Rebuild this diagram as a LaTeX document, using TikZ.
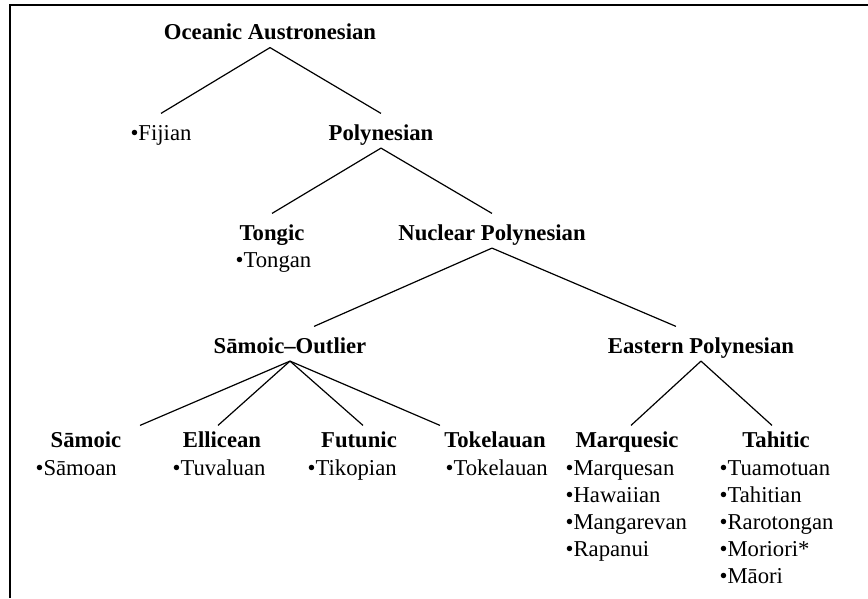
\documentclass[tikz,border=0pt]{standalone}
\usepackage{fontspec}
\setmainfont{Liberation Serif}
\usepackage{xcolor}

\newcommand{\treefont}{\fontsize{22.7}{27}\selectfont}
\tikzset{
  lang/.style={inner sep=0pt, text height=26pt, text depth=7.5pt, anchor=base},
  grp/.style={lang, font=\treefont\bfseries},
  sub/.style={grp, text height=21pt},
  list/.style={inner sep=0pt, anchor=base west},
}

\begin{document}
\begin{tikzpicture}[x=1pt,y=-1pt,line width=1.2pt,font=\treefont]
\useasboundingbox (0,0) rectangle (868,598);
\draw [line width=1.8pt] (10,598) -- (10,5) -- (868,5);
% top of the tree
\node [grp] (oce) at (270,39.5) {Oceanic Austronesian};
\node [lang] (fij) at (161,140) {•Fijian};
\node [grp] (pol) at (381,140) {Polynesian};
\node [grp] (ton) at (272,240) {Tongic};
\node [list] at (235,267) {•Tongan};
\node [grp] (nuc) at (492,240) {Nuclear Polynesian};
\node [grp] (sao) at (290,353) {Sāmoic–Outlier};
\node [grp] (eas) at (701,353) {Eastern Polynesian};
% subgroups
\node [sub] (smc) at (86,447) {Sāmoic};
\node [sub] (ell) at (222,447) {Ellicean};
\node [sub] (fut) at (359,447) {Futunic};
\node [sub] (tok) at (495,447) {Tokelauan};
\node [sub] (mar) at (627,447) {Marquesic};
\node [sub] (tah) at (776,447) {Tahitic};
\node [list] at (35,475) {•Sāmoan};
\node [list] at (172,475) {•Tuvaluan};
\node [list] at (307,475) {•Tikopian};
\node [list] at (445,475) {•Tokelauan};
\node [list] at (565,475) {\begin{tabular}[t]{@{}l@{}}•Marquesan\\•Hawaiian\\•Mangarevan\\•Rapanui\end{tabular}};
\node [list] at (719,475) {\begin{tabular}[t]{@{}l@{}}•Tuamotuan\\•Tahitian\\•Rarotongan\\•Moriori*\\•Māori\end{tabular}};
% branches
\draw (oce.south) -- (fij.north);
\draw (oce.south) -- (pol.north);
\draw (pol.south) -- (ton.north);
\draw (pol.south) -- (nuc.north);
\draw (nuc.south) -- ([xshift=24pt]sao.north);
\draw (nuc.south) -- ([xshift=-25pt]eas.north);
\foreach \c/\dx in {smc/54,ell/-4,fut/4,tok/-55}
  \draw (sao.south) -- ([xshift=\dx pt]\c.north);
\draw (eas.south) -- ([xshift=4pt]mar.north);
\draw (eas.south) -- ([xshift=-4pt]tah.north);
\end{tikzpicture}
\end{document}
